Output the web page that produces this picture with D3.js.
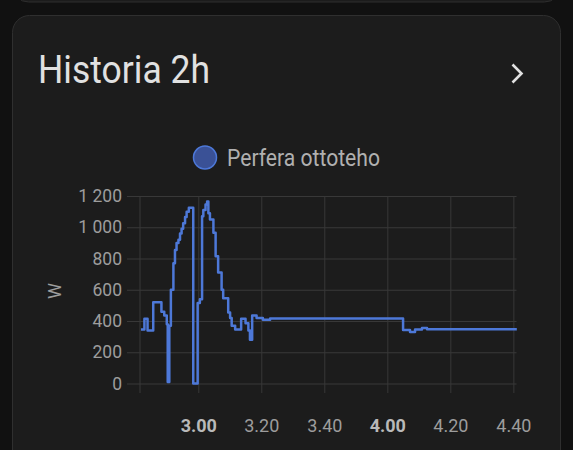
<!DOCTYPE html>
<html>
<head>
<meta charset="utf-8">
<script src="https://cdn.jsdelivr.net/npm/d3@7"></script>
<style>
  body { margin: 0; background: #111111; }
  svg { display: block; font-family: Roboto, "Noto Sans", sans-serif; }
</style>
</head>
<body>
<div id="chart"></div>
<script>
// power readings, 2 hour window (h:mm:ss, W)
var times = ["2:41:48","2:42:54","2:43:54","2:45:42","2:48:18","2:49:12","2:50:00","2:50:18",
  "2:50:48","2:51:18","2:52:06","2:52:36","2:53:06","2:53:42","2:54:12","2:54:42","2:55:12",
  "2:55:48","2:56:18","2:57:00","2:58:24","2:59:48","3:00:30","3:01:12","3:01:36","3:02:18",
  "3:02:48","3:03:12","3:03:42","3:04:48","3:05:30","3:06:18","3:07:24","3:07:54","3:09:30",
  "3:10:06","3:10:36","3:11:42","3:13:36","3:15:00","3:15:54","3:16:24","3:17:06","3:18:30",
  "3:20:30","3:22:48","4:05:00","4:07:12","4:08:48","4:11:00","4:12:36","4:41:06"];
var watts = [345,415,340,520,460,435,380,10,
  370,600,770,855,900,920,960,990,1025,
  1065,1100,1125,0,515,540,1070,1110,1145,
  1165,1090,1050,965,815,710,600,545,455,
  420,370,345,415,385,340,280,435,420,
  408,416,342,330,345,355,348,348];

var yTicks = [0, 200, 400, 600, 800, 1000, 1200];
var xTickLabels = ["3.00", "3.20", "3.40", "4.00", "4.20", "4.40"];
var seriesName = "Perfera ottoteho";
var unit = "W";
var title = "Historia 2h";

var width = 573,
    height = 450,
    lineColor = "#4d78d8",
    gridColor = "#383838",
    tickColor = "#9d9d9d";

var parseTime = d3.timeParse("%H:%M:%S");
var data = times.map(function(t, i) { return { time: parseTime(t), value: watts[i] }; });

var x = d3.scaleTime()
    .domain([parseTime("2:41:30"), parseTime("4:41:00")])
    .range([140, 516.5]);

var y = d3.scaleLinear()
    .domain([0, 1200])
    .range([383.5, 196]);

var svg = d3.select("#chart").append("svg")
    .attr("width", width)
    .attr("height", height);

svg.append("rect")
    .attr("width", width)
    .attr("height", height)
    .attr("fill", "#111111");

// bottom of the card above, then the card itself
svg.append("rect")
    .attr("x", 12.5).attr("y", -40)
    .attr("width", 548).attr("height", 42)
    .attr("rx", 16)
    .attr("fill", "#1c1c1c")
    .attr("stroke", "#2f2f2f");

svg.append("rect")
    .attr("x", 12.5).attr("y", 15.5)
    .attr("width", 548).attr("height", 470)
    .attr("rx", 17)
    .attr("fill", "#1c1c1c")
    .attr("stroke", "#2f2f2f");

svg.append("text")
    .attr("x", 38)
    .attr("y", 83)
    .attr("fill", "#e1e1e1")
    .attr("font-size", 38)
    .attr("textLength", 172)
    .attr("lengthAdjust", "spacingAndGlyphs")
    .text(title);

svg.append("path")
    .attr("d", "M512.5,64.5L521.5,73.5L512.5,82.5")
    .attr("fill", "none")
    .attr("stroke", "#e1e1e1")
    .attr("stroke-width", 2.6);

// legend
svg.append("circle")
    .attr("cx", 205).attr("cy", 157.5).attr("r", 11.5)
    .attr("fill", "#3a5196")
    .attr("stroke", lineColor)
    .attr("stroke-width", 1.5);

svg.append("text")
    .attr("x", 227)
    .attr("y", 166)
    .attr("fill", "#b0b0b0")
    .attr("font-size", 23)
    .attr("textLength", 153)
    .attr("lengthAdjust", "spacingAndGlyphs")
    .text(seriesName);

// y grid + labels
var yAxis = d3.axisLeft(y)
    .tickValues(yTicks)
    .tickSize(-(516.5 - 127))
    .tickPadding(5)
    .tickFormat(function(d) { return d3.format(",")(d).replace(",", " "); });

var yG = svg.append("g")
    .attr("transform", "translate(127,0)")
    .call(yAxis);
yG.select(".domain").remove();
yG.selectAll("line").attr("stroke", gridColor);
yG.selectAll("text")
    .attr("fill", tickColor)
    .attr("font-size", 17.5)
    .attr("font-family", "Roboto, sans-serif");

// x grid + labels
var xTicks = xTickLabels.map(function(s) { return d3.timeParse("%H.%M")(s); });

var xAxis = d3.axisBottom(x)
    .tickValues(xTicks)
    .tickSize(-(393 - 196))
    .tickFormat(d3.timeFormat("%-H.%M"));

var xG = svg.append("g")
    .attr("transform", "translate(0,393)")
    .call(xAxis);
xG.select(".domain").remove();
xG.selectAll("line").attr("stroke", gridColor);
xG.selectAll("text")
    .attr("y", 26)
    .attr("fill", function(d) { return d.getMinutes() === 0 ? "#b9b9b9" : tickColor; })
    .attr("font-weight", function(d) { return d.getMinutes() === 0 ? "bold" : null; })
    .attr("font-size", 18)
    .attr("font-family", "Roboto, sans-serif");

// left border of the plot
svg.append("line")
    .attr("x1", 140).attr("x2", 140)
    .attr("y1", 196).attr("y2", 393)
    .attr("stroke", gridColor);

svg.append("text")
    .attr("transform", "translate(61,291) rotate(-90)")
    .attr("text-anchor", "middle")
    .attr("fill", tickColor)
    .attr("font-size", 18)
    .text(unit);

var line = d3.line()
    .x(function(d) { return x(d.time); })
    .y(function(d) { return y(d.value); })
    .curve(d3.curveStepAfter);

svg.append("path")
    .datum(data)
    .attr("d", line)
    .attr("fill", "none")
    .attr("stroke", lineColor)
    .attr("stroke-width", 2.5)
    .attr("stroke-linejoin", "round");
</script>
</body>
</html>
